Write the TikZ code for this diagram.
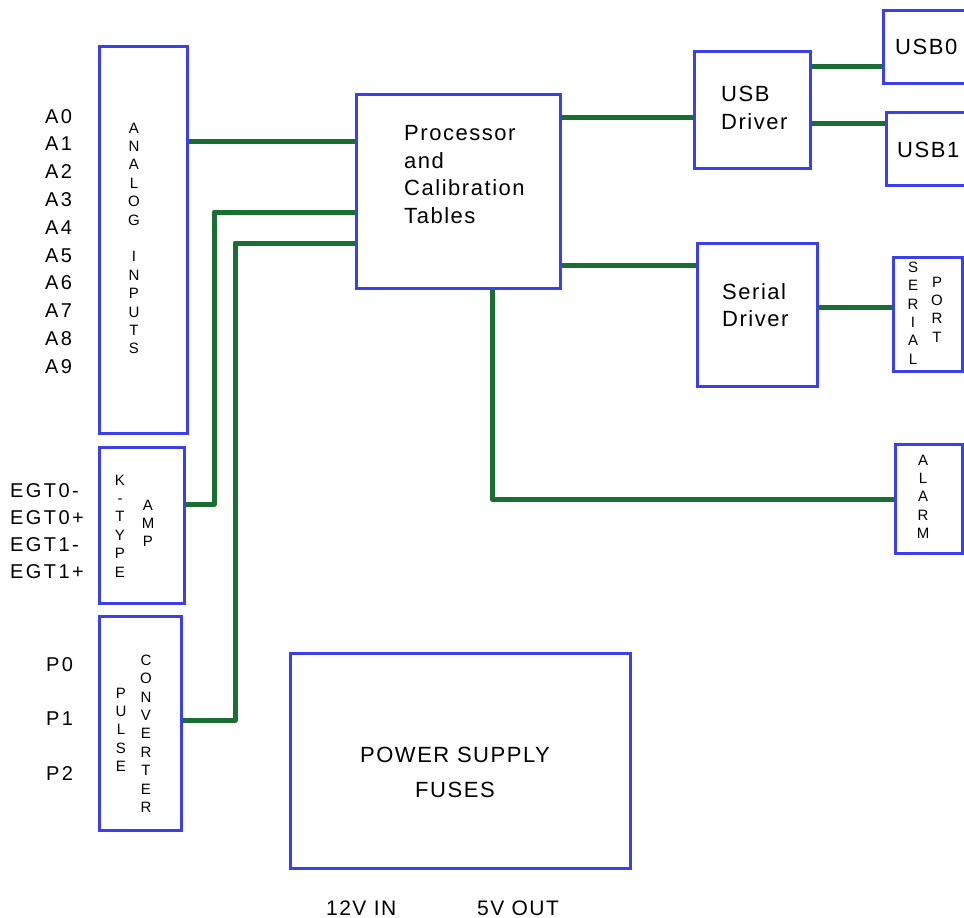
\documentclass[tikz,border=0pt]{standalone}
\usepackage{fontspec}
\setmainfont{Liberation Sans}
\newfontfamily\bigf[LetterSpace=7]{Liberation Sans}
\newfontfamily\labf[LetterSpace=12]{Liberation Sans}
\newfontfamily\vertf[LetterSpace=0]{Liberation Sans}
\usetikzlibrary{backgrounds}
\definecolor{boxblue}{RGB}{60,64,235}
\definecolor{wiregreen}{RGB}{26,110,50}
\tikzset{
  blk/.style={draw=boxblue, line width=3pt, inner sep=0pt},
  wire/.style={draw=wiregreen, line width=5pt, line cap=round, line join=round},
  bigtxt/.style={inner sep=0pt, font=\bigf\fontsize{22}{27.5}\selectfont},
  labtxt/.style={inner sep=0pt, font=\labf\fontsize{20}{24}\selectfont, anchor=base west},
  vert/.style={inner sep=0pt, align=center, anchor=north, font=\vertf\fontsize{15}{18.4}\selectfont},
}
\begin{document}
\begin{tikzpicture}[x=1pt,y=-1pt]
\useasboundingbox (0,0) rectangle (964,918);
% boxes
\node[blk, minimum width=88pt, minimum height=387pt] (analog) at (143,239.5) {};
\node[blk, minimum width=85pt, minimum height=156pt] (kamp) at (141.5,525) {};
\node[blk, minimum width=82pt, minimum height=214pt] (pulse) at (140,723) {};
\node[blk, minimum width=204pt, minimum height=194pt] (proc) at (458,191) {};
\node[blk, minimum width=116pt, minimum height=117pt] (usbdrv) at (752,109.5) {};
\node[blk, minimum width=110pt, minimum height=73pt] (usb0) at (938,46.5) {};
\node[blk, minimum width=110pt, minimum height=73pt] (usb1) at (941,148.5) {};
\node[blk, minimum width=120pt, minimum height=143pt] (serdrv) at (757,314.5) {};
\node[blk, minimum width=69pt, minimum height=114pt] (serport) at (927.5,314) {};
\node[blk, minimum width=67pt, minimum height=109pt] (alarm) at (928.5,498.5) {};
\node[blk, minimum width=340pt, minimum height=215pt] (power) at (460,760.5) {};
% corner coordinates
\coordinate (kc1) at (214,504);
\coordinate (kc2) at (214,212);
\coordinate (pc1) at (235,720);
\coordinate (pc2) at (235,243);
\coordinate (ac1) at (492,499);
% wires
\begin{scope}[on background layer]
\draw[wire] (analog.east |- 0,141) -- (proc.west |- 0,141);
\draw[wire] (kamp.east |- kc1) -- (kc1) -- (kc2) -- (proc.west |- kc2);
\draw[wire] (pulse.east |- pc1) -- (pc1) -- (pc2) -- (proc.west |- pc2);
\draw[wire] (proc.east |- 0,117) -- (usbdrv.west |- 0,117);
\draw[wire] (usbdrv.east |- 0,66) -- (usb0.west |- 0,66);
\draw[wire] (usbdrv.east |- 0,123) -- (usb1.west |- 0,123);
\draw[wire] (proc.east |- 0,265) -- (serdrv.west |- 0,265);
\draw[wire] (serdrv.east |- 0,307) -- (serport.west |- 0,307);
\draw[wire] (proc.south -| ac1) -- (ac1) -- (alarm.west |- ac1);
\end{scope}
% box texts
\node[bigtxt, align=left, anchor=north west] (tproc) at (404,125.3) {Processor\\and\\Calibration\\Tables};
\node[bigtxt, align=left, anchor=north west] (tusbdrv) at (721,86.3) {USB\\Driver};
\node[bigtxt, anchor=base west] (tusb0) at (895,54) {USB0};
\node[bigtxt, anchor=base west] (tusb1) at (897,157) {USB1};
\node[bigtxt, align=left, anchor=north west] (tserdrv) at (722,283.3) {Serial\\Driver};
\node[bigtxt, align=center, anchor=north, font=\bigf\fontsize{22}{35}\selectfont] (tpower) at (455,747.3) {POWER SUPPLY\\FUSES};
\node[bigtxt, anchor=base west, font=\bigf\fontsize{21}{24}\selectfont] (t12v) at (326,915) {12V IN};
\node[bigtxt, anchor=base west, font=\bigf\fontsize{21}{24}\selectfont] (t5v) at (477,915) {5V OUT};
% vertical texts
\node[vert] (tanalog) at (134,122.6) {A\\N\\A\\L\\O\\G\\[18.4pt]I\\N\\P\\U\\T\\S};
\node[vert] (tktype) at (120,474.6) {K\\-\\T\\Y\\P\\E};
\node[vert] (tamp) at (148,499.6) {A\\M\\P};
\node[vert] (tpulse) at (121,687.6) {P\\U\\L\\S\\E};
\node[vert] (tconv) at (146,654.6) {C\\O\\N\\V\\E\\R\\T\\E\\R};
\node[vert] (tserial) at (913,261.6) {S\\E\\R\\I\\A\\L};
\node[vert] (tport) at (937,276.6) {P\\O\\R\\T};
\node[vert] (talarm) at (923,454.6) {A\\L\\A\\R\\M};
% input labels
\foreach \i in {0,...,9} {
  \node[labtxt] (a\i) at (45,{123+27.8*\i}) {A\i};
}
\node[labtxt] (egt0m) at (10,497) {EGT0-};
\node[labtxt] (egt0p) at (10,524) {EGT0+};
\node[labtxt] (egt1m) at (10,551) {EGT1-};
\node[labtxt] (egt1p) at (10,578) {EGT1+};
\node[labtxt] (p0) at (46,671) {P0};
\node[labtxt] (p1) at (46,725) {P1};
\node[labtxt] (p2) at (46,780) {P2};
\end{tikzpicture}
\end{document}
